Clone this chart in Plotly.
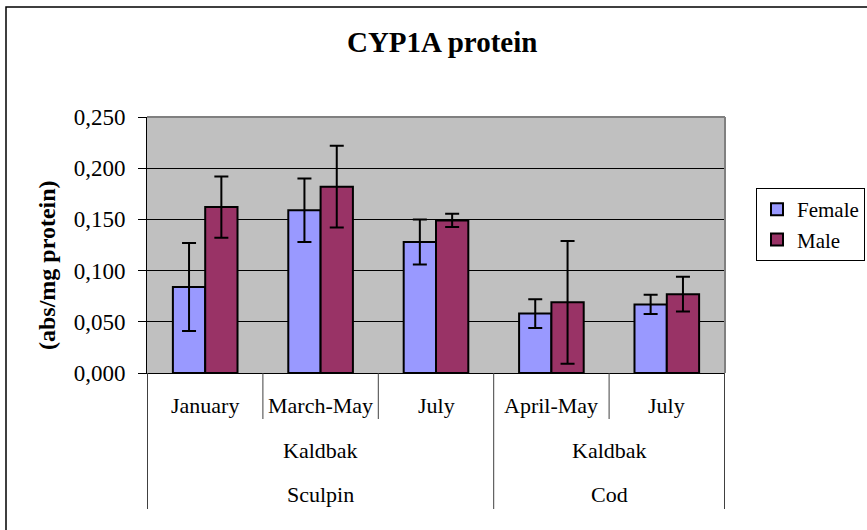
import plotly.graph_objects as go

# categories (month, location, species)
months = ["January", "March-May", "July", "April-May", "July"]
keys = ["Sculpin January", "Sculpin March-May", "Sculpin July", "Cod April-May", "Cod July"]
locations = ["Kaldbak", "Kaldbak"]
species = ["Sculpin", "Cod"]

female = [0.084, 0.159, 0.128, 0.058, 0.067]
female_err = [0.043, 0.031, 0.022, 0.014, 0.0095]
male = [0.162, 0.182, 0.149, 0.069, 0.077]
male_err = [0.030, 0.040, 0.0065, 0.060, 0.017]

FONT = "Liberation Serif"

# plot area in pixels
W, H = 867, 530
L, R, T, B = 147, 725, 117, 373


def px_x(p):
    return (p - L) / (R - L)


def px_y(p):
    return (B - p) / (B - T)


fig = go.Figure()
fig.add_trace(go.Bar(
    x=keys, y=female, name="Female",
    marker=dict(color="#9999FF", line=dict(color="black", width=2)),
    error_y=dict(type="data", array=female_err, color="black", thickness=2, width=7),
))
fig.add_trace(go.Bar(
    x=keys, y=male, name="Male",
    marker=dict(color="#993366", line=dict(color="black", width=2)),
    error_y=dict(type="data", array=male_err, color="black", thickness=2, width=7),
))

label_font = dict(family=FONT, size=22, color="black")
annotations = []
for i, m in enumerate(months):
    annotations.append(dict(x=i, y=px_y(405), xref="x", yref="paper", text=m,
                            xanchor="center", yanchor="middle",
                            showarrow=False, font=label_font))
for cx, loc, sp in [(1, locations[0], species[0]), (3.5, locations[1], species[1])]:
    annotations.append(dict(x=cx, y=px_y(450), xref="x", yref="paper", text=loc,
                            xanchor="center", yanchor="middle",
                            showarrow=False, font=label_font))
    annotations.append(dict(x=cx, y=px_y(494), xref="x", yref="paper", text=sp,
                            xanchor="center", yanchor="middle",
                            showarrow=False, font=label_font))
annotations.append(dict(x=px_x(47), y=px_y(265), xref="paper", yref="paper",
                        text="<b>(abs/mg protein)</b>", textangle=-90, showarrow=False,
                        xanchor="center", yanchor="middle",
                        font=dict(family=FONT, size=24, color="black")))

shapes = []
# long dividers for the species level
for xv in [-0.5, 2.5, 4.5]:
    shapes.append(dict(type="line", xref="x", yref="paper", x0=xv, x1=xv,
                       y0=0, y1=px_y(509), line=dict(color="#404040", width=1)))
# short dividers between months
for xv in [0.5, 1.5, 3.5]:
    shapes.append(dict(type="line", xref="x", yref="paper", x0=xv, x1=xv,
                       y0=0, y1=px_y(419), line=dict(color="#404040", width=1)))
# gray frame of plot area (top, right)
shapes.append(dict(type="line", xref="paper", yref="paper", x0=0, x1=1, y0=1, y1=1,
                   line=dict(color="#808080", width=2)))
shapes.append(dict(type="line", xref="paper", yref="paper", x0=1, x1=1, y0=0, y1=1,
                   line=dict(color="#808080", width=2)))
# outer chart border
shapes.append(dict(type="rect", xref="paper", yref="paper",
                   x0=px_x(6), x1=px_x(875), y0=px_y(7), y1=px_y(540),
                   line=dict(color="black", width=1.5)))

fig.update_layout(
    width=W, height=H,
    margin=dict(l=L, r=W - R, t=T, b=H - B),
    paper_bgcolor="white", plot_bgcolor="#C0C0C0",
    font=dict(family=FONT, size=20, color="black"),
    separators=",.",
    barmode="group", bargap=0.44, bargroupgap=0,
    title=dict(text="<b>CYP1A protein</b>", x=0.51, xref="container", xanchor="center",
               y=1 - 42 / H, yref="container", yanchor="middle",
               font=dict(size=29, color="black", family=FONT)),
    xaxis=dict(type="category", showticklabels=False, ticks="", showline=True,
               linecolor="black", linewidth=1, showgrid=False),
    yaxis=dict(range=[0, 0.25], dtick=0.05, tickformat=".3f", showline=True,
               linecolor="black", linewidth=1, ticks="outside", ticklen=8,
               tickcolor="black", showgrid=True, gridcolor="black", gridwidth=1,
               zeroline=False, ticklabelstandoff=8,
               tickfont=dict(family=FONT, size=23)),
    legend=dict(xref="container", yref="container", x=865 / W, y=1 - 188 / H,
                xanchor="right", yanchor="top",
                bordercolor="black", borderwidth=1, bgcolor="white",
                font=dict(family=FONT, size=21), tracegroupgap=4, itemwidth=30),
    annotations=annotations,
    shapes=shapes,
)

# drop the default page margin so the chart sits at the window origin
fig.write_html("out.html", config={"displayModeBar": False},
               post_script="document.body.style.margin='0px';")
